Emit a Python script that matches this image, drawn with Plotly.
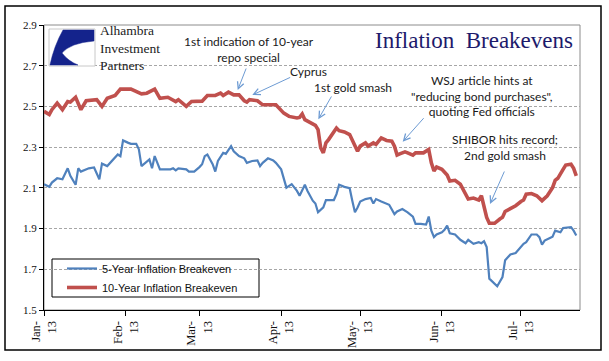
import plotly.graph_objects as go

# ---------------- data ----------------
dates_10y = ["01-01","01-03","01-04","01-06","01-08","01-10","01-11","01-13","01-15","01-17",
             "01-21","01-23","01-25","01-28","01-30","02-03","02-07","02-09","02-12","02-14",
             "02-17","02-20","02-21","02-24","02-26","03-02","03-04","03-07","03-09","03-10",
             "03-12","03-14","03-16","03-18","03-19","03-20","03-23","03-25","03-30","04-01",
             "04-02","04-04","04-07","04-08","04-09","04-10","04-12","04-14","04-15","04-16",
             "04-17","04-18","04-19","04-21","04-22","04-23","04-25","04-27","04-29","04-30",
             "05-01","05-03","05-04","05-06","05-07","05-09","05-11","05-13","05-14","05-15",
             "05-16","05-18","05-19","05-21","05-22","05-25","05-27","05-28","05-29","05-30",
             "06-01","06-03","06-04","06-06","06-08","06-10","06-11","06-13","06-15","06-16",
             "06-17","06-18","06-19","06-21","06-23","06-24","06-25","06-27","06-29","07-01",
             "07-02","07-03","07-05","07-07","07-09","07-11","07-13","07-14","07-15","07-17",
             "07-18","07-20","07-21","07-22"]
values_10y = [2.476,2.460,2.484,2.516,2.484,2.524,2.521,2.545,2.484,2.528,
              2.533,2.500,2.540,2.554,2.585,2.585,2.562,2.565,2.585,2.540,
              2.545,2.524,2.533,2.500,2.524,2.526,2.554,2.554,2.565,2.554,
              2.570,2.557,2.557,2.528,2.521,2.533,2.528,2.508,2.508,2.476,
              2.467,2.451,2.443,2.446,2.463,2.435,2.419,2.407,2.386,2.297,
              2.272,2.321,2.337,2.378,2.394,2.381,2.375,2.362,2.305,2.280,
              2.305,2.321,2.305,2.321,2.313,2.345,2.333,2.329,2.305,2.261,
              2.267,2.277,2.272,2.261,2.272,2.272,2.289,2.223,2.183,2.202,
              2.191,2.163,2.134,2.137,2.118,2.069,2.045,2.050,2.040,2.061,
              2.012,1.955,1.926,1.926,1.947,1.955,1.984,1.996,2.012,2.033,
              2.040,2.069,2.072,2.061,2.037,2.061,2.101,2.137,2.147,2.191,
              2.212,2.216,2.196,2.159]

dates_5y = ["01-01","01-03","01-04","01-06","01-08","01-10","01-11","01-13","01-14","01-15",
            "01-18","01-20","01-22","01-23","01-25","01-27","01-29","01-30","01-31","02-02",
            "02-03","02-05","02-06","02-07","02-10","02-11","02-12","02-14","02-18","02-19",
            "02-20","02-21","02-24","02-25","02-27","03-01","03-02","03-03","03-04","03-06",
            "03-07","03-08","03-10","03-11","03-13","03-14","03-16","03-18","03-19","03-21",
            "03-23","03-24","03-25","03-27","03-29","03-30","04-01","04-03","04-05","04-07",
            "04-08","04-10","04-11","04-13","04-14","04-15","04-17","04-18","04-21","04-22",
            "04-23","04-25","04-27","04-28","04-29","04-30","05-01","05-03","05-05","05-06",
            "05-07","05-09","05-11","05-12","05-14","05-15","05-17","05-19","05-21","05-22",
            "05-24","05-26","05-27","05-28","05-29","05-30","06-01","06-02","06-03","06-04",
            "06-06","06-08","06-10","06-11","06-13","06-15","06-16","06-17","06-18","06-19",
            "06-22","06-24","06-25","06-27","06-29","07-01","07-02","07-03","07-05","07-07",
            "07-08","07-09","07-10","07-12","07-13","07-14","07-16","07-17","07-20","07-21",
            "07-22"]
values_5y = [2.118,2.105,2.126,2.147,2.142,2.196,2.159,2.115,2.196,2.180,
             2.196,2.200,2.142,2.219,2.207,2.235,2.264,2.256,2.333,2.321,
             2.316,2.316,2.289,2.207,2.240,2.196,2.256,2.191,2.191,2.196,
             2.186,2.196,2.191,2.180,2.180,2.202,2.216,2.256,2.264,2.216,
             2.180,2.232,2.272,2.267,2.305,2.280,2.256,2.245,2.223,2.232,
             2.235,2.207,2.223,2.245,2.235,2.223,2.191,2.101,2.118,2.085,
             2.061,2.115,2.085,2.037,2.023,1.980,2.004,2.040,2.040,2.069,
             2.115,2.105,2.098,2.037,1.980,2.004,2.033,2.045,2.050,2.023,
             2.045,2.033,2.023,2.017,1.971,1.984,1.996,1.980,1.959,1.923,
             1.923,1.920,1.959,1.890,1.858,1.871,1.882,1.894,1.915,1.877,
             1.871,1.845,1.828,1.845,1.825,1.833,1.828,1.838,1.809,1.654,
             1.617,1.662,1.744,1.773,1.780,1.809,1.825,1.833,1.871,1.871,
             1.858,1.821,1.841,1.854,1.860,1.890,1.882,1.903,1.907,1.890,
             1.866]

series_names = ["5-Year Inflation Breakeven", "10-Year Inflation Breakeven"]
month_ticks = ["2013-01-01","2013-02-01","2013-03-01","2013-04-01","2013-05-01","2013-06-01","2013-07-01"]
month_labels = ["Jan-<br>13","Feb-<br>13","Mar-<br>13","Apr-<br>13","May-<br>13","Jun-<br>13","Jul-<br>13"]
y_ticks = [1.5, 1.7, 1.9, 2.1, 2.3, 2.5, 2.7, 2.9]

title_text = "Inflation  Breakevens"
logo_text = "Alhambra<br>Investment<br>Partners"
notes = [
    "1st indication of 10-year<br>repo special",
    "Cyprus",
    "1st gold smash",
    "WSJ article hints at<br>\"reducing bond purchases\",<br>quoting Fed officials",
    "SHIBOR hits record;<br>2nd gold smash",
]

# ---------------- layout geometry ----------------
W, H = 609, 361
L, R, T, B = 44, 580, 25, 310


def fx(p):
    return (p - L) / (R - L)


def fy(p):
    return (B - p) / (B - T)


BLUE = "#4F81BD"
RED = "#C0504D"
ARROW = "#6D9BD3"
SERIF = "Liberation Serif, Times New Roman, serif"
SANS = "Liberation Sans, Arial, sans-serif"
NOTE_FONT = dict(family="Lato, Carlito, sans-serif", size=12, color="#1a1a1a")

fig = go.Figure()
fig.add_trace(go.Scatter(x=["2013-" + d for d in dates_5y], y=values_5y, mode="lines",
                         name=series_names[0], line=dict(color=BLUE, width=2.2)))
fig.add_trace(go.Scatter(x=["2013-" + d for d in dates_10y], y=values_10y, mode="lines",
                         name=series_names[1], line=dict(color=RED, width=3.6)))

shapes = []
shapes.append(dict(type="rect", xref="paper", yref="paper", x0=fx(5), x1=fx(601), y0=fy(350), y1=fy(6),
                   line=dict(color="black", width=1.5), layer="above"))
shapes.append(dict(type="rect", xref="paper", yref="paper", x0=0, x1=1, y0=0, y1=1,
                   line=dict(color="#8c8c8c", width=1), layer="below"))
shapes.append(dict(type="rect", xref="paper", yref="paper", x0=fx(52), x1=fx(259), y0=fy(297), y1=fy(259),
                   line=dict(color="black", width=1), fillcolor="white", layer="below"))
shapes.append(dict(type="rect", xref="paper", yref="paper", x0=fx(49), x1=fx(95), y0=fy(66), y1=fy(29),
                   line=dict(color="#c8c8c8", width=1), fillcolor="white", layer="above"))


def P(x, y):
    return f"{fx(x):.5f},{fy(y):.5f}"


path = (f"M {P(63,30)} L {P(94,30)} L {P(94,41)} "
        f"Q {P(70,43)} {P(62,53)} Q {P(68,61)} {P(78,65)} L {P(50,65)} "
        f"Q {P(54,46)} {P(63,30)} Z")
shapes.append(dict(type="path", xref="paper", yref="paper", path=path,
                   fillcolor="#14238C", line=dict(color="#14238C", width=0.5), layer="above"))

annotations = []
annotations.append(dict(xref="paper", yref="paper", x=fx(474), y=fy(40), text=title_text, showarrow=False,
                        font=dict(family=SERIF, size=23, color="#1d1a6b"), xanchor="center", yanchor="middle"))
annotations.append(dict(xref="paper", yref="paper", x=fx(98), y=fy(48), text=logo_text, showarrow=False,
                        font=dict(family=SERIF, size=13.5, color="#222"), xanchor="left", yanchor="middle",
                        align="left"))

note_pos = [(249, 49), (308, 72), (353, 87), (482, 95.5), (505, 147)]
for t, (x, y) in zip(notes, note_pos):
    annotations.append(dict(xref="paper", yref="paper", x=fx(x), y=fy(y), text=t, showarrow=False,
                            font=NOTE_FONT, xanchor="center", yanchor="middle", align="center"))

arrows = [(246.7, 67, 237.7, 90), (291.7, 76.7, 252.3, 95), (332.3, 95, 318.3, 119.3),
          (425, 116.7, 402.7, 141.7), (505, 170, 490, 204)]
for tx, ty, hx, hy in arrows:
    annotations.append(dict(xref="paper", yref="paper", x=fx(hx), y=fy(hy), ax=tx - hx, ay=ty - hy,
                            axref="pixel", ayref="pixel", text="", showarrow=True, arrowhead=5,
                            arrowsize=1.3, arrowwidth=1, arrowcolor=ARROW, standoff=0))

fig.update_layout(
    width=W, height=H,
    margin=dict(l=L, r=W - R, t=T, b=H - B, autoexpand=False),
    paper_bgcolor="white", plot_bgcolor="white",
    showlegend=True,
    legend=dict(x=fx(62), y=fy(254), xanchor="left", yanchor="top", bgcolor="rgba(0,0,0,0)",
                borderwidth=0, font=dict(family=SANS, size=11, color="#111"), tracegroupgap=0),
    shapes=shapes, annotations=annotations,
    xaxis=dict(type="date", range=["2013-01-01", "2013-07-23 10:00"], tickvals=month_ticks, ticktext=month_labels,
               tickangle=-90, ticks="outside", ticklen=5, tickcolor="black", showline=True, linecolor="black",
               linewidth=1, showgrid=False, zeroline=False, tickfont=dict(family=SERIF, size=12.5, color="#111")),
    yaxis=dict(range=[1.5, 2.9], tickvals=y_ticks, tickformat=".1f", ticks="outside", ticklen=4,
               tickcolor="black", showline=True, linecolor="black", linewidth=1, showgrid=True,
               gridcolor="#a6a6a6", griddash="3px,2px", gridwidth=1, zeroline=False,
               tickfont=dict(family=SERIF, size=11, color="#111")),
)

fig.write_html("out.html", config={"displayModeBar": False},
               post_script="document.body.style.margin='0px';document.body.style.overflow='hidden';")
